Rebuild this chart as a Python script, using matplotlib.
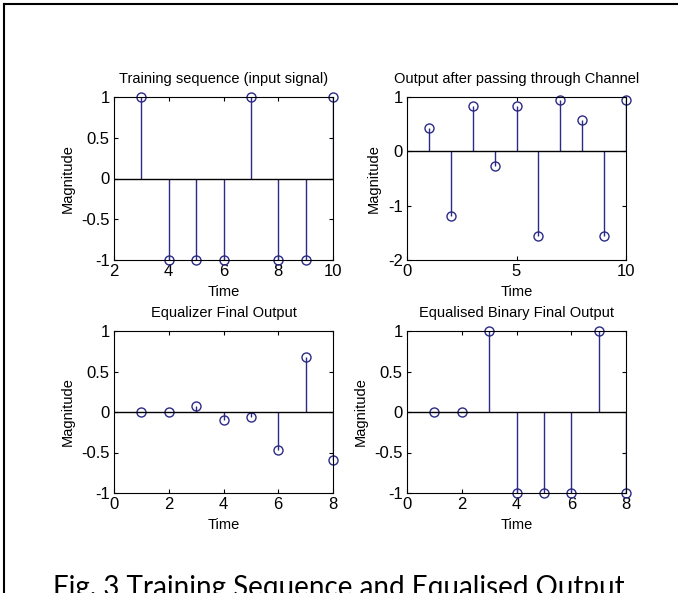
import matplotlib
matplotlib.use("Agg")
import matplotlib.pyplot as plt
from matplotlib.lines import Line2D

plt.rcParams['font.family'] = ['Liberation Sans', 'DejaVu Sans']
plt.rcParams['font.size'] = 10

# data
train_t = [3, 4, 5, 6, 7, 8, 9, 10]
train_y = [1, -1, -1, -1, 1, -1, -1, 1]

chan_t = [1, 2, 3, 4, 5, 6, 7, 8, 9, 10]
chan_y = [0.43, -1.19, 0.83, -0.27, 0.83, -1.55, 0.94, 0.58, -1.55, 0.94]

eq_t = [1, 2, 3, 4, 5, 6, 7, 8]
eq_y = [0.0, 0.0, 0.08, -0.10, -0.06, -0.47, 0.68, -0.59]

bin_t = [1, 2, 3, 4, 5, 6, 7, 8]
bin_y = [0, 0, 1, -1, -1, -1, 1, -1]

titles = ["Training sequence (input signal)", "Output after passing through Channel",
          "Equalizer Final Output", "Equalised Binary Final Output"]

stem_color = '#2b2b86'

W, H = 678, 593
fig = plt.figure(figsize=(W / 100, H / 100), dpi=100)


def px_axes(l, t, r, b):
    return fig.add_axes([l / W, 1 - b / H, (r - l) / W, (b - t) / H])


def stem_plot(ax, t, y, title, xlim, xticks, ylim, yticks, yfmt):
    ml, sl, bl = ax.stem(t, y, basefmt='k-')
    plt.setp(sl, color=stem_color, linewidth=1.0)
    plt.setp(ml, marker='o', markersize=6.5, markerfacecolor='none',
             markeredgecolor=stem_color, markeredgewidth=1.0, clip_on=False)
    bl.set_xdata(list(xlim))
    bl.set_color('black')
    bl.set_linewidth(1.0)
    ax.set_xlim(xlim)
    ax.set_ylim(ylim)
    ax.set_xticks(xticks)
    ax.set_yticks(yticks)
    ax.set_yticklabels(yfmt)
    ax.tick_params(direction='in', top=True, right=True, length=3, labelsize=12)
    ax.tick_params(axis='x', pad=3)
    ax.tick_params(axis='y', pad=3)
    for s in ax.spines.values():
        s.set_linewidth(0.8)
    ax.set_title(title, fontsize=10.5, pad=10)
    ax.set_xlabel('Time', fontsize=10.5, labelpad=4)
    ax.set_ylabel('Magnitude', fontsize=10.5, labelpad=5)


ax1 = px_axes(114, 97, 333, 260)
stem_plot(ax1, train_t, train_y, titles[0], (2, 10), [2, 4, 6, 8, 10],
          (-1, 1), [-1, -0.5, 0, 0.5, 1], ['-1', '-0.5', '0', '0.5', '1'])

ax2 = px_axes(407, 97, 626, 260)
stem_plot(ax2, chan_t, chan_y, titles[1], (0, 10), [0, 5, 10],
          (-2, 1), [-2, -1, 0, 1], ['-2', '-1', '0', '1'])

ax3 = px_axes(114, 331, 333, 493)
stem_plot(ax3, eq_t, eq_y, titles[2], (0, 8), [0, 2, 4, 6, 8],
          (-1, 1), [-1, -0.5, 0, 0.5, 1], ['-1', '-0.5', '0', '0.5', '1'])

ax4 = px_axes(407, 331, 626, 493)
stem_plot(ax4, bin_t, bin_y, titles[3], (0, 8), [0, 2, 4, 6, 8],
          (-1, 1), [-1, -0.5, 0, 0.5, 1], ['-1', '-0.5', '0', '0.5', '1'])

# frame lines (left and top only, like the cropped original)
fig.add_artist(Line2D([4 / W, 4 / W], [0, 1 - 4 / H], color='black', linewidth=1.5))
fig.add_artist(Line2D([4 / W, 1], [1 - 4 / H, 1 - 4 / H], color='black', linewidth=1.5))

# caption, cut off at the bottom edge
fig.text(0.5, 1 - 596 / H, 'Fig. 3 Training Sequence and Equalised Output',
         ha='center', va='baseline', fontsize=20,
         family=['Lato', 'DejaVu Sans'])

fig.savefig('out.png', dpi=100)
